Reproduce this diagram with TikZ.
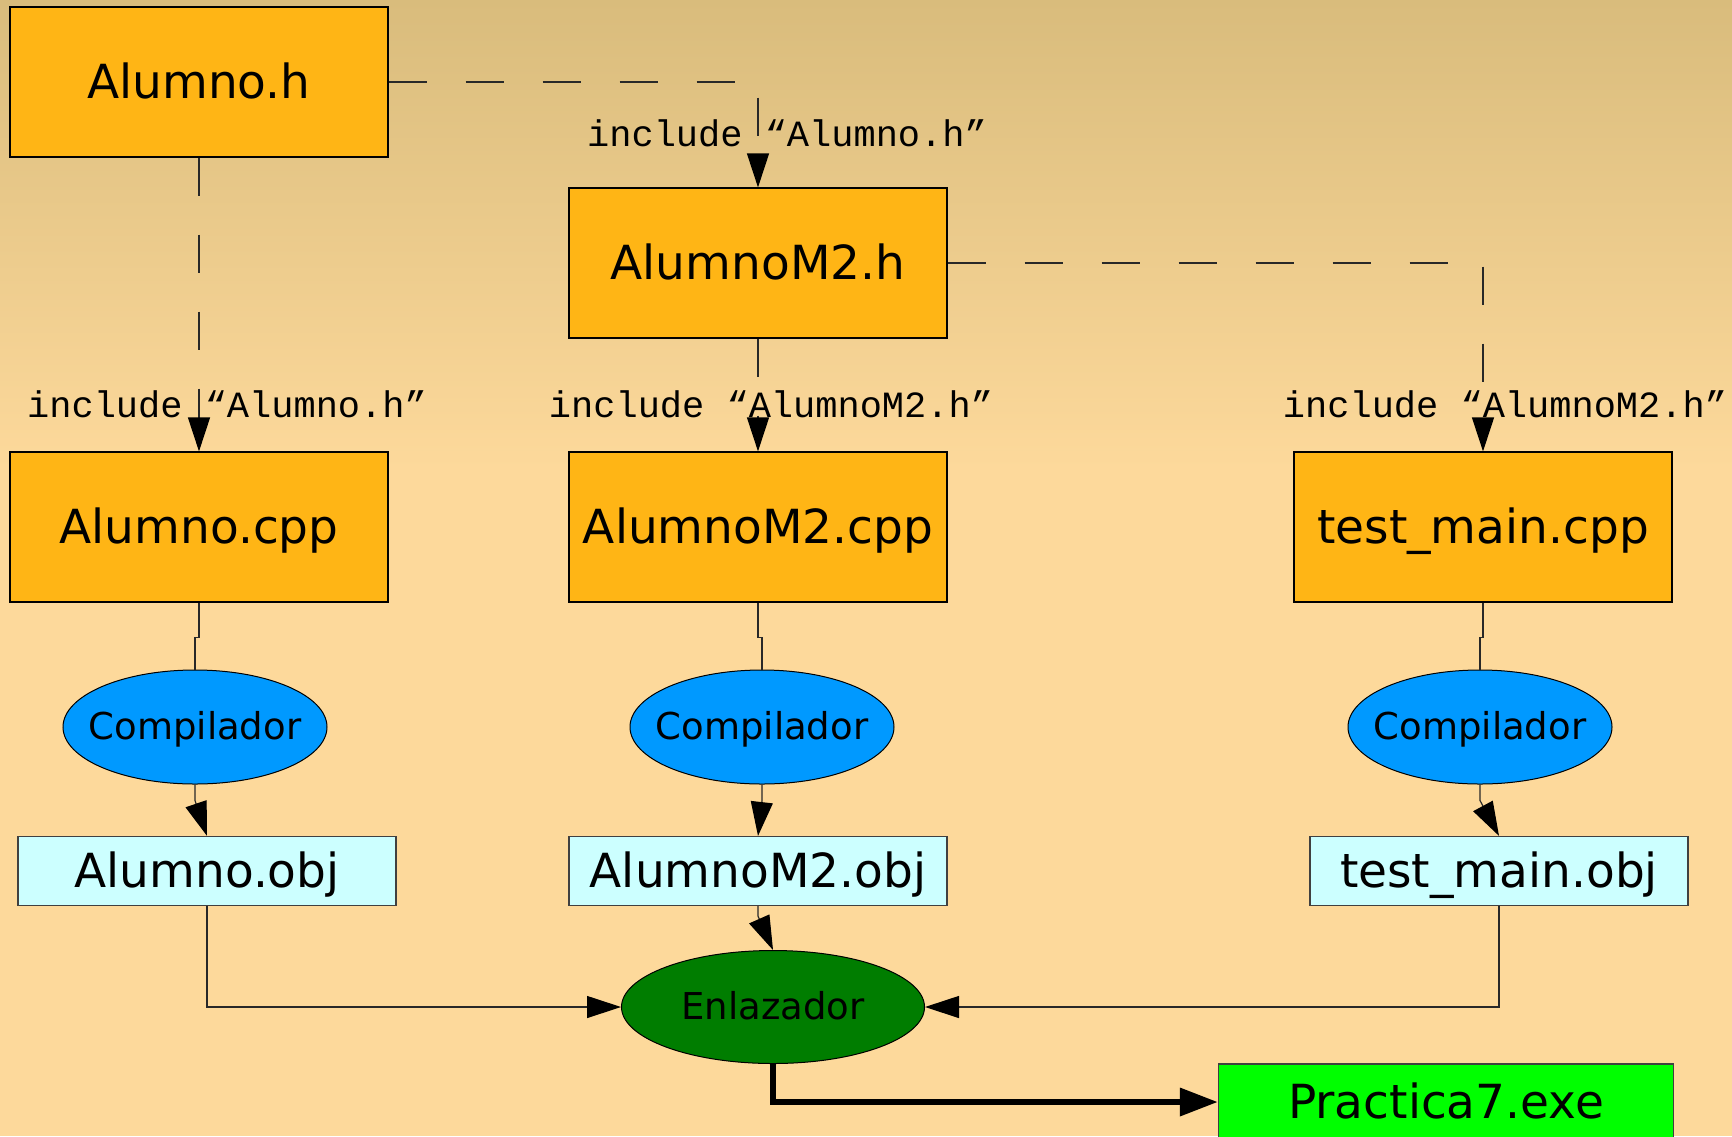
\documentclass[tikz,border=0pt]{standalone}
\usepackage{fontspec}
\setmainfont{DejaVu Sans}
\newfontfamily\monofont{Liberation Mono}
\usetikzlibrary{arrows.meta,shapes.geometric}
\definecolor{bgtop}{RGB}{217,188,124}
\definecolor{bgbot}{RGB}{253,217,155}
\definecolor{boxorange}{RGB}{255,181,21}
\definecolor{compblue}{RGB}{0,153,255}
\definecolor{objcyan}{RGB}{204,255,255}
\definecolor{linkgreen}{RGB}{0,125,0}
\definecolor{exegreen}{RGB}{0,255,0}
\definecolor{linegray}{RGB}{40,40,40}
\begin{document}
\begin{tikzpicture}[x=1pt,y=-1pt,
  bigtext/.style={font=\fontsize{47}{56}\selectfont,text height=43.6pt,text depth=11.1pt},
  midtext/.style={font=\fontsize{37}{44}\selectfont,text height=34.3pt,text depth=8.7pt,inner sep=0pt},
  srcbox/.style={draw=black,line width=1.2pt,fill=boxorange,minimum width=378pt,minimum height=150pt,inner sep=0pt,bigtext},
  objbox/.style={draw=black!75,line width=1.2pt,fill=objcyan,minimum width=378pt,minimum height=69pt,inner sep=0pt,bigtext},
  exebox/.style={draw=black!75,line width=1.2pt,fill=exegreen,minimum width=455pt,minimum height=76pt,inner sep=0pt,bigtext},
  compell/.style={ellipse,draw=black,line width=1pt,fill=compblue,minimum width=264pt,minimum height=114pt,inner sep=0pt},
  linkell/.style={ellipse,draw=black,line width=1pt,fill=linkgreen,minimum width=303pt,minimum height=113pt,inner sep=0pt},
  lbl/.style={font=\monofont\fontsize{37}{44}\selectfont,inner sep=0pt,anchor=base},
  tipsmall/.tip={Triangle[length=34pt,width=22pt,color=black]},
  tipbig/.tip={Triangle[length=38pt,width=27pt,color=black]},
  dashline/.style={draw=linegray,line width=1.2pt,dash pattern=on 38pt off 39pt,-tipsmall},
  conn/.style={draw=linegray,line width=1.2pt},
  connarrow/.style={conn,-tipsmall},
  bigarrow/.style={draw=black,line width=6.5pt,-tipbig}
]
\useasboundingbox (0,0) rectangle (1732,1136);
\fill[top color=bgtop,bottom color=bgbot] (0,0) rectangle (1732,470);
\fill[bgbot] (0,469) rectangle (1732,1136);

% nodes
\node[srcbox] (ah) at (199,82) {Alumno.h};
\node[srcbox] (amh) at (758,263) {AlumnoM2.h};
\node[srcbox] (acpp) at (199,527) {Alumno.cpp};
\node[srcbox] (amcpp) at (758,527) {AlumnoM2.cpp};
\node[srcbox] (tcpp) at (1483,527) {test\_main.cpp};

\node[compell] (comp1) at (195,727) {};
\node[midtext] (comp1t) at (comp1.center) {Compilador};
\node[compell] (comp2) at (762,727) {};
\node[midtext] (comp2t) at (comp2.center) {Compilador};
\node[compell] (comp3) at (1480,727) {};
\node[midtext] (comp3t) at (comp3.center) {Compilador};

\node[objbox] (obj1) at (207,871) {Alumno.obj};
\node[objbox] (obj2) at (758,871) {AlumnoM2.obj};
\node[objbox] (obj3) at (1499,871) {test\_main.obj};

\node[linkell] (enl) at (773,1007) {};
\node[midtext] (enlt) at (enl.center) {Enlazador};
\node[exebox] (exe) at (1446,1102) {Practica7.exe};

% include connectors
\draw[dashline] (ah.east) -| (amh.north);
\draw[dashline] (ah.south) -- (acpp.north);
\draw[dashline] (amh.south) -- (amcpp.north);
\draw[dashline] (amh.east) -| (tcpp.north);

\node[lbl] (l1) at (787,146) {include “Alumno.h”};
\node[lbl] (l2) at (227,417) {include “Alumno.h”};
\node[lbl] (l3) at (771,417) {include “AlumnoM2.h”};
\node[lbl] (l4) at (1505,417) {include “AlumnoM2.h”};

% compile connectors
\draw[conn] (acpp.south) -- ++(0,35) -| (comp1.north);
\draw[conn] (amcpp.south) -- ++(0,35) -| (comp2.north);
\draw[conn] (tcpp.south) -- ++(0,35) -| (comp3.north);

\draw[connarrow] (comp1.south) -- ++(0,16) -- (obj1.north);
\draw[connarrow] (comp2.south) -- ++(0,16) -- (obj2.north);
\draw[connarrow] (comp3.south) -- ++(0,16) -- (obj3.north);

% link connectors
\draw[connarrow] (obj2.south) -- ++(0,10) -- (enl.north);
\draw[connarrow] (obj1.south) |- (enl.west);
\draw[connarrow] (obj3.south) |- (enl.east);
\draw[bigarrow] (enl.south) |- (exe.west);
\end{tikzpicture}
\end{document}
